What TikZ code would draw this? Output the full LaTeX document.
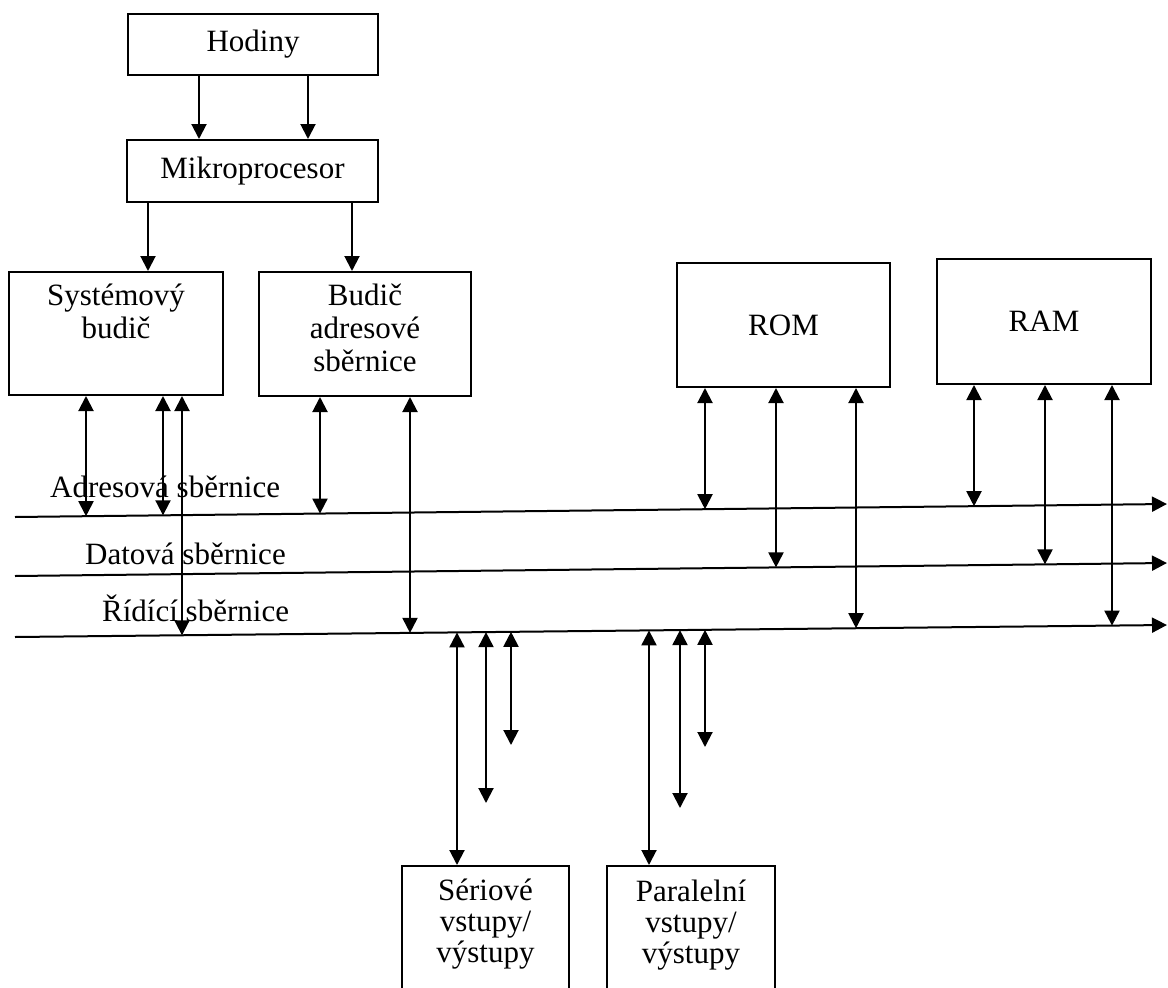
\documentclass[tikz,border=0pt]{standalone}
\usepackage{fontspec}
\setmainfont{Liberation Serif}
\usepackage{tikz}
\usetikzlibrary{arrows.meta}

\begin{document}
\begin{tikzpicture}[
        x=1pt, y=-1pt,
        font=\fontsize{31}{33}\selectfont,
        box/.style={draw, line width=2pt, inner sep=0pt, align=center},
        txt/.style={inner sep=0pt, align=center},
        bus/.style={line width=2pt, -{Triangle[width=15pt,length=15pt]}},
        feed/.style={line width=2pt, -{Triangle[width=15pt,length=15pt]}},
        link/.style={line width=2pt, {Triangle[width=15pt,length=15pt]}-{Triangle[width=15pt,length=15pt]}}
    ]
    \useasboundingbox (0,0) rectangle (1168,988);
    \clip (0,0) rectangle (1168,988);

    % BLOKY
    \node[box, minimum width=250pt, minimum height=61pt] (clock) at (253,44.5) {Hodiny};
    \node[box, minimum width=251pt, minimum height=62pt] (cpu) at (252.5,171) {Mikroprocesor};
    \node[box, minimum width=214pt, minimum height=123pt] (sysdrv) at (116,333.5) {};
    \node[box, minimum width=212pt, minimum height=124pt] (adrdrv) at (365,334) {};
    \node[box, minimum width=213pt, minimum height=124pt] (rom) at (783.5,325) {ROM};
    \node[box, minimum width=214pt, minimum height=125pt] (ram) at (1044,321.5) {RAM};
    \node[box, minimum width=167pt, minimum height=144pt] (ser) at (485.5,938) {};
    \node[box, minimum width=168pt, minimum height=144pt] (par) at (691,938) {};

    % texty v blocich (base = posledni radek)
    \node[txt, anchor=base] (sysdrvtext) at ([yshift=-67pt]sysdrv.north) {Systémový\\ budič};
    \node[txt, anchor=base] (adrdrvtext) at ([yshift=-100pt]adrdrv.north) {Budič\\ adresové\\ sběrnice};
    \node[txt, anchor=base, font=\fontsize{31}{31}\selectfont] (sertext) at ([yshift=-97pt]ser.north) {Sériové\\ vstupy/\\ výstupy};
    \node[txt, anchor=base, font=\fontsize{31}{31}\selectfont] (partext) at ([yshift=-98pt]par.north) {Paralelní\\ vstupy/\\ výstupy};

    % SBERNICE
    \coordinate (adrL) at (15,517);
    \coordinate (adrR) at (1167,504);
    \coordinate (datL) at (15,576);
    \coordinate (datR) at (1167,563);
    \coordinate (ctlL) at (15,637);
    \coordinate (ctlR) at (1167,625);

    \draw[bus] (adrL) -- (adrR);
    \draw[bus] (datL) -- (datR);
    \draw[bus] (ctlL) -- (ctlR);

    \node[txt, anchor=base west] (adrlabel) at (50,497) {Adresová sběrnice};
    \node[txt, anchor=base west] (datlabel) at (85,564) {Datová sběrnice};
    \node[txt, anchor=base west] (ctllabel) at (102,621) {Řídící sběrnice};

    % HODINY -> MIKROPROCESOR -> BUDICE
    \coordinate (h1) at ([xshift=72pt]clock.south west);
    \coordinate (h2) at ([xshift=181pt]clock.south west);
    \draw[feed] (h1) -- (h1 |- cpu.north);
    \draw[feed] (h2) -- (h2 |- cpu.north);

    \coordinate (m1) at ([xshift=22pt]cpu.south west);
    \coordinate (m2) at ([xshift=226pt]cpu.south west);
    \draw[feed] (m1) -- (m1 |- sysdrv.north);
    \draw[feed] (m2) -- (m2 |- adrdrv.north);

    % ODBOCKY NA SBERNICE
    \coordinate (a1) at (86,516.2);
    \coordinate (a2) at (163,515.3);
    \coordinate (a3) at (320,513.6);
    \coordinate (a4) at (705,509.2);
    \coordinate (a5) at (974,506.2);
    \coordinate (d1) at (776,567.4);
    \coordinate (d2) at (1045,564.4);
    \coordinate (c1) at (182,635.3);
    \coordinate (c2) at (410,632.9);
    \coordinate (c3) at (856,628.2);
    \coordinate (c4) at (1112,625.6);

    \draw[link] (sysdrv.south -| a1) -- (a1);
    \draw[link] (sysdrv.south -| a2) -- (a2);
    \draw[link] (sysdrv.south -| c1) -- (c1);
    \draw[link] (adrdrv.south -| a3) -- (a3);
    \draw[link] (adrdrv.south -| c2) -- (c2);

    \draw[link] (rom.south -| a4) -- (a4);
    \draw[link] (rom.south -| d1) -- (d1);
    \draw[link] (rom.south -| c3) -- (c3);
    \draw[link] (ram.south -| a5) -- (a5);
    \draw[link] (ram.south -| d2) -- (d2);
    \draw[link] (ram.south -| c4) -- (c4);

    % VSTUPY / VYSTUPY
    \coordinate (s1) at (457,632.4);
    \coordinate (s2) at (486,632.1);
    \coordinate (s3) at (511,631.8);
    \coordinate (p1) at (649,630.4);
    \coordinate (p2) at (680,630.1);
    \coordinate (p3) at (705,629.8);
    \coordinate (s2end) at (486,803);
    \coordinate (s3end) at (511,745);
    \coordinate (p2end) at (680,808);
    \coordinate (p3end) at (705,747);

    \draw[link] (s1) -- (s1 |- ser.north);
    \draw[link] (s2) -- (s2end);
    \draw[link] (s3) -- (s3end);
    \draw[link] (p1) -- (p1 |- par.north);
    \draw[link] (p2) -- (p2end);
    \draw[link] (p3) -- (p3end);

\end{tikzpicture}
\end{document}
